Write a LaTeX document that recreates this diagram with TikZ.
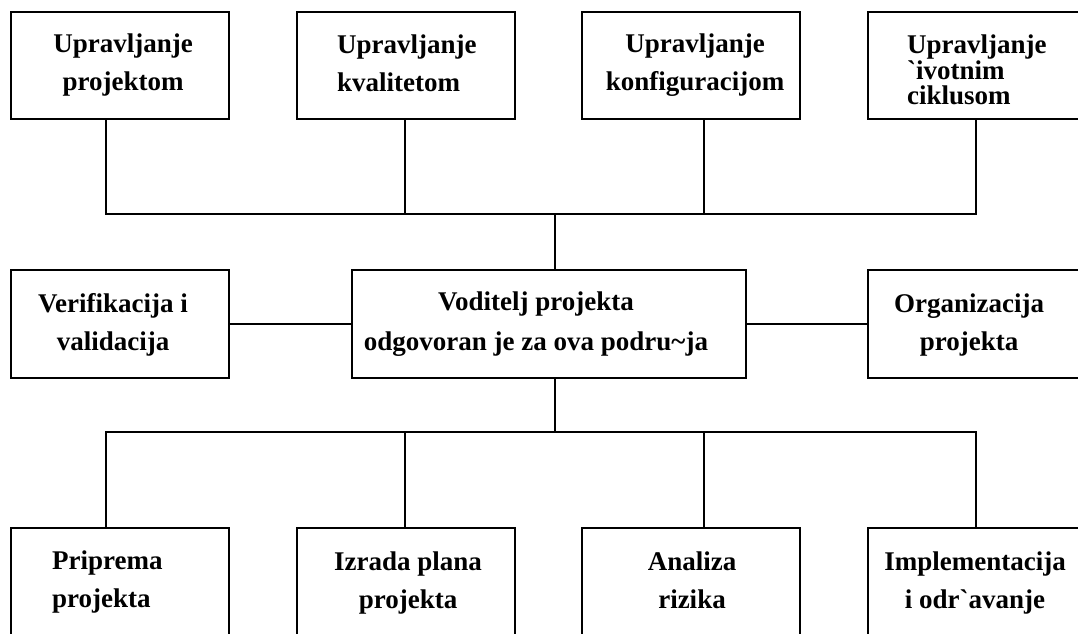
\documentclass[tikz,border=0pt]{standalone}
\usepackage{fontspec}
\setmainfont{Liberation Serif}
\begin{document}
\begin{tikzpicture}[x=1pt,y=-1pt,
  box/.style={draw,line width=1.8pt,rectangle,inner sep=0pt,anchor=north west,minimum width=218pt,minimum height=107pt},
  wide/.style={box,minimum width=394pt,minimum height=108pt},
  lbl/.style={font=\fontsize{27}{38}\selectfont\bfseries,inner sep=0pt},
  tight/.style={font=\fontsize{27}{24.5}\selectfont\bfseries,inner sep=0pt},
  wire/.style={line width=1.8pt}]
\clip (0,0) rectangle (1078,633);
\fill[white] (0,0) rectangle (1078,633);
% boxes
\node[box] (t1) at (10,11) {};
\node[box] (t2) at (296,11) {};
\node[box] (t3) at (581,11) {};
\node[box] (t4) at (867,11) {};
\node[box,minimum height=108pt] (m1) at (10,269) {};
\node[wide] (mc) at (351,269) {};
\node[box,minimum height=108pt] (m3) at (867,269) {};
\node[box,minimum height=120pt] (b1) at (10,527) {};
\node[box,minimum height=120pt] (b2) at (296,527) {};
\node[box,minimum height=120pt] (b3) at (581,527) {};
\node[box,minimum height=120pt] (b4) at (867,527) {};
% texts (base anchor = baseline of last line)
\node[lbl,align=center,anchor=base] (tt1) at (123,90) {Upravljanje\\projektom};
\node[lbl,align=left,anchor=base west] (tt2) at (337,91) {Upravljanje\\kvalitetom};
\node[lbl,align=center,anchor=base] (tt3) at (695,90) {Upravljanje\\konfiguracijom};
\node[tight,align=left,anchor=base west] (tt4) at (907,104) {Upravljanje\\\textasciigrave ivotnim\\ciklusom};
\node[lbl,align=center,anchor=base] (tm1) at (113,350) {Verifikacija i\\validacija};
\node[lbl,align=center,anchor=base,font=\fontsize{27}{40}\selectfont\bfseries] (tmc) at (536,350) {Voditelj projekta\\odgovoran je za ova podru\textasciitilde ja};
\node[lbl,align=center,anchor=base] (tm3) at (969,350) {Organizacija\\projekta};
\node[lbl,align=left,anchor=base west] (tb1) at (52,607) {Priprema\\projekta};
\node[lbl,align=center,anchor=base] (tb2) at (408,608) {Izrada plana\\projekta};
\node[lbl,align=center,anchor=base] (tb3) at (692,608) {Analiza\\rizika};
\node[lbl,align=center,anchor=base] (tb4) at (975,608) {Implementacija\\i odr\textasciigrave avanje};
% junctions
\coordinate (h1) at (106,214);
\coordinate (h2) at (405,214);
\coordinate (h3) at (704,214);
\coordinate (h4) at (976,214);
\coordinate (jt) at (555,214);
\coordinate (g1) at (106,432);
\coordinate (g2) at (405,432);
\coordinate (g3) at (704,432);
\coordinate (g4) at (976,432);
\coordinate (jb) at (555,432);
% connectors
\draw[wire] (t1.south -| h1) -- (h1) -- (h4) -- (t4.south -| h4);
\draw[wire] (t2.south -| h2) -- (h2);
\draw[wire] (t3.south -| h3) -- (h3);
\draw[wire] (jt) -- (mc.north -| jt);
\draw[wire] (m1.east) -- (m1.east -| mc.west);
\draw[wire] (mc.east) -- (mc.east -| m3.west);
\draw[wire] (mc.south -| jb) -- (jb);
\draw[wire] (b1.north -| g1) -- (g1) -- (g4) -- (b4.north -| g4);
\draw[wire] (b2.north -| g2) -- (g2);
\draw[wire] (b3.north -| g3) -- (g3);
\end{tikzpicture}
\end{document}
